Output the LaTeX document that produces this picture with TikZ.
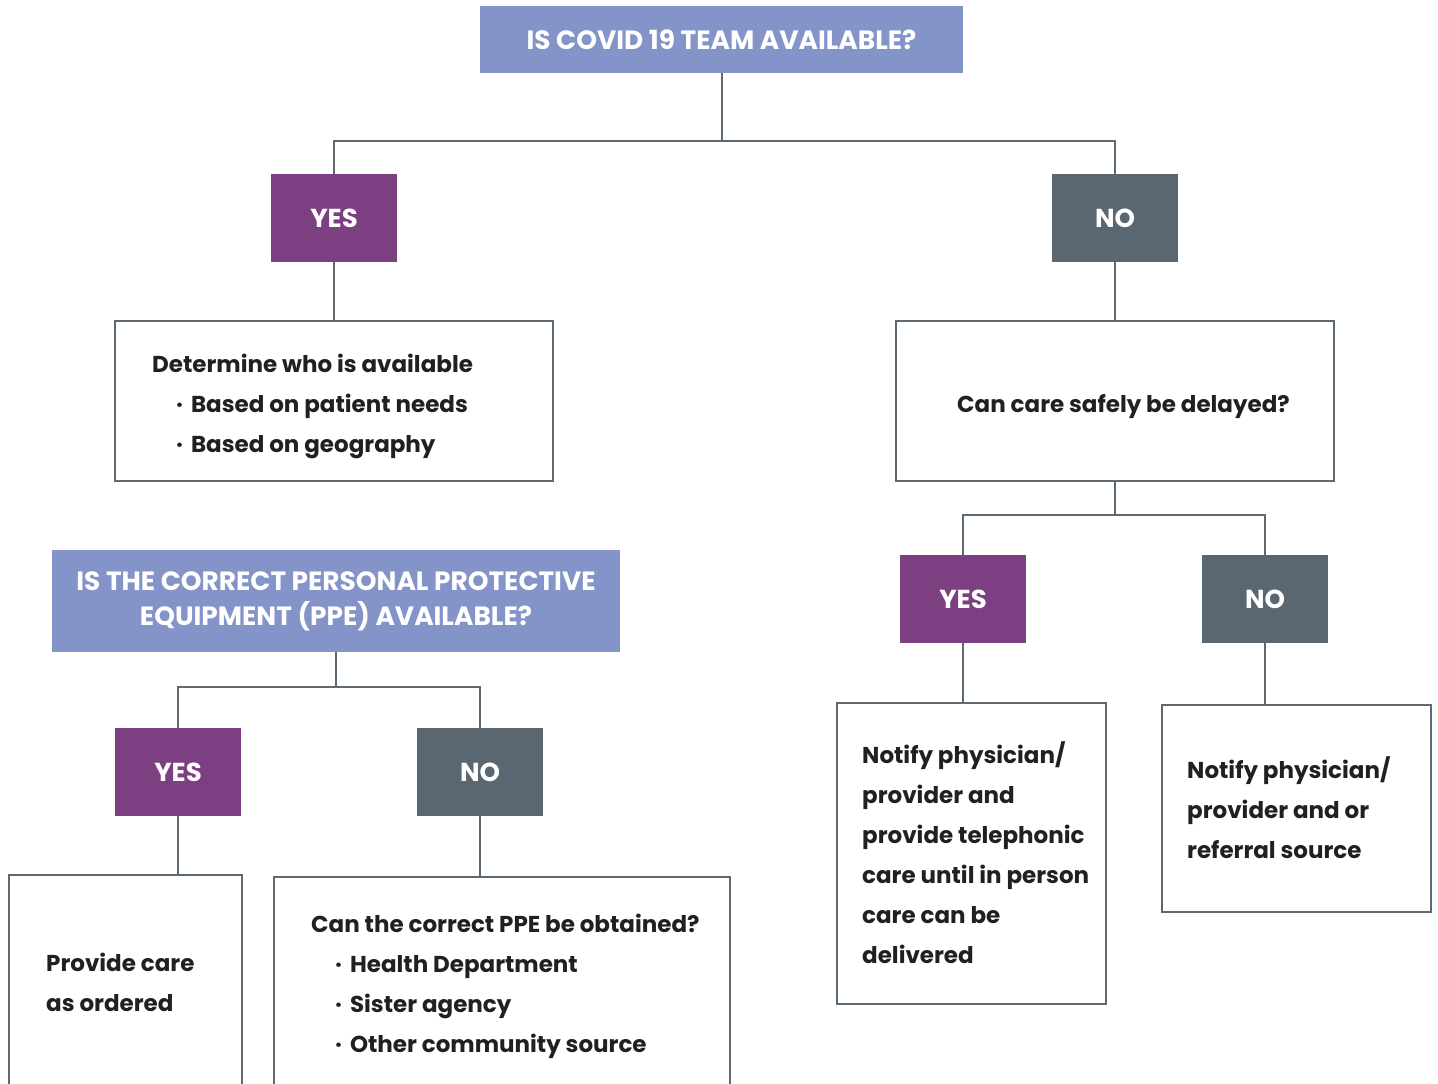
\documentclass[tikz,border=0pt]{standalone}
\usepackage{fontspec}
\setmainfont{Poppins}
\definecolor{hdr}{HTML}{8493C8}
\definecolor{yescol}{HTML}{7B3F82}
\definecolor{nocol}{HTML}{5A6770}
\definecolor{linecol}{HTML}{5E6A73}
\definecolor{txtcol}{HTML}{231F20}
\newcommand{\bul}{\hspace*{24pt}·\hspace{8pt}}
\begin{document}
\begin{tikzpicture}[x=1pt,y=-1pt,
  hdrbox/.style={fill=hdr,draw=none,text=white,font=\bfseries\fontsize{26.4}{35}\selectfont,align=center,inner sep=0pt},
  yesbox/.style={fill=yescol,draw=none,text=white,font=\bfseries\fontsize{26}{26}\selectfont,minimum width=126pt,minimum height=88pt,inner sep=0pt},
  nobox/.style={fill=nocol,draw=none,text=white,font=\bfseries\fontsize{26}{26}\selectfont,minimum width=126pt,minimum height=88pt,inner sep=0pt},
  txtbox/.style={draw=linecol,line width=1.8pt,fill=white,inner sep=0pt},
  txt/.style={text=txtcol,font=\bfseries\fontsize{23}{40}\selectfont,align=left,inner sep=0pt,anchor=base west},
  conn/.style={draw=linecol,line width=2pt}]
\useasboundingbox (0,0) rectangle (1438,1084);
\clip (0,0) rectangle (1438,1084);
\fill[white] (0,0) rectangle (1438,1084);

% top level
\node[hdrbox,minimum width=483pt,minimum height=67pt] (top) at (721.5,39.5) {\raisebox{-2pt}{IS COVID 19 TEAM AVAILABLE?}};
\node[yesbox] (yes1) at (334,218) {\raisebox{-2pt}{YES}};
\node[nobox] (no1) at (1115,218) {\raisebox{-2pt}{NO}};
\coordinate (j1) at (721.5,141);
\draw[conn] (top.south) -- (j1);
\draw[conn] (yes1.north) |- (j1) -| (no1.north);

\node[txtbox,minimum width=438pt,minimum height=160pt] (b1) at (334,401) {};
\node[txt] (b1t) at (152,452)
  {Determine who is available\\\bul Based on patient needs\\\bul Based on geography};
\node[txtbox,minimum width=438pt,minimum height=160pt] (b2) at (1115,401) {};
\node[txt] (b2t) at (957,412) {Can care safely be delayed?};
\draw[conn] (yes1.south) -- (b1.north);
\draw[conn] (no1.south) -- (b2.north);

% right branch
\node[yesbox] (yes2) at (963,599) {\raisebox{-2pt}{YES}};
\node[nobox] (no2) at (1265,599) {\raisebox{-2pt}{NO}};
\coordinate (j2) at (1115,515);
\draw[conn] (b2.south) -- (j2);
\draw[conn] (yes2.north) |- (j2) -| (no2.north);

\node[txtbox,minimum width=269pt,minimum height=301pt] (n1) at (971.5,853.5) {};
\node[txt] (n1t) at (862,963)
  {Notify physician/\\provider and\\provide telephonic\\care until in person\\care can be\\delivered};
\node[txtbox,minimum width=269pt,minimum height=207pt] (n2) at (1296.5,808.5) {};
\node[txt] (n2t) at (1187,858)
  {Notify physician/\\provider and or\\referral source};
\draw[conn] (yes2.south) -- (yes2.south |- n1.north);
\draw[conn] (no2.south) -- (no2.south |- n2.north);

% left lower branch
\node[hdrbox,minimum width=568pt,minimum height=102pt] (ppe) at (336,601)
  {IS THE CORRECT PERSONAL PROTECTIVE\\EQUIPMENT (PPE) AVAILABLE?};
\node[yesbox] (yes3) at (178,772) {\raisebox{-2pt}{YES}};
\node[nobox] (no3) at (480,772) {\raisebox{-2pt}{NO}};
\coordinate (j3) at (336,687);
\draw[conn] (ppe.south) -- (j3);
\draw[conn] (yes3.north) |- (j3) -| (no3.north);

\node[txtbox,minimum width=233pt,minimum height=214pt] (pc) at (125.5,982) {};
\node[txt] (pct) at (46,1011) {Provide care\\as ordered};
\node[txtbox,minimum width=456pt,minimum height=214pt] (cp) at (502,984) {};
\node[txt] (cpt) at (311,1052)
  {Can the correct PPE be obtained?\\\bul Health Department\\\bul Sister agency\\\bul Other community source};
\draw[conn] (yes3.south) -- (yes3.south |- pc.north);
\draw[conn] (no3.south) -- (no3.south |- cp.north);
\end{tikzpicture}
\end{document}
